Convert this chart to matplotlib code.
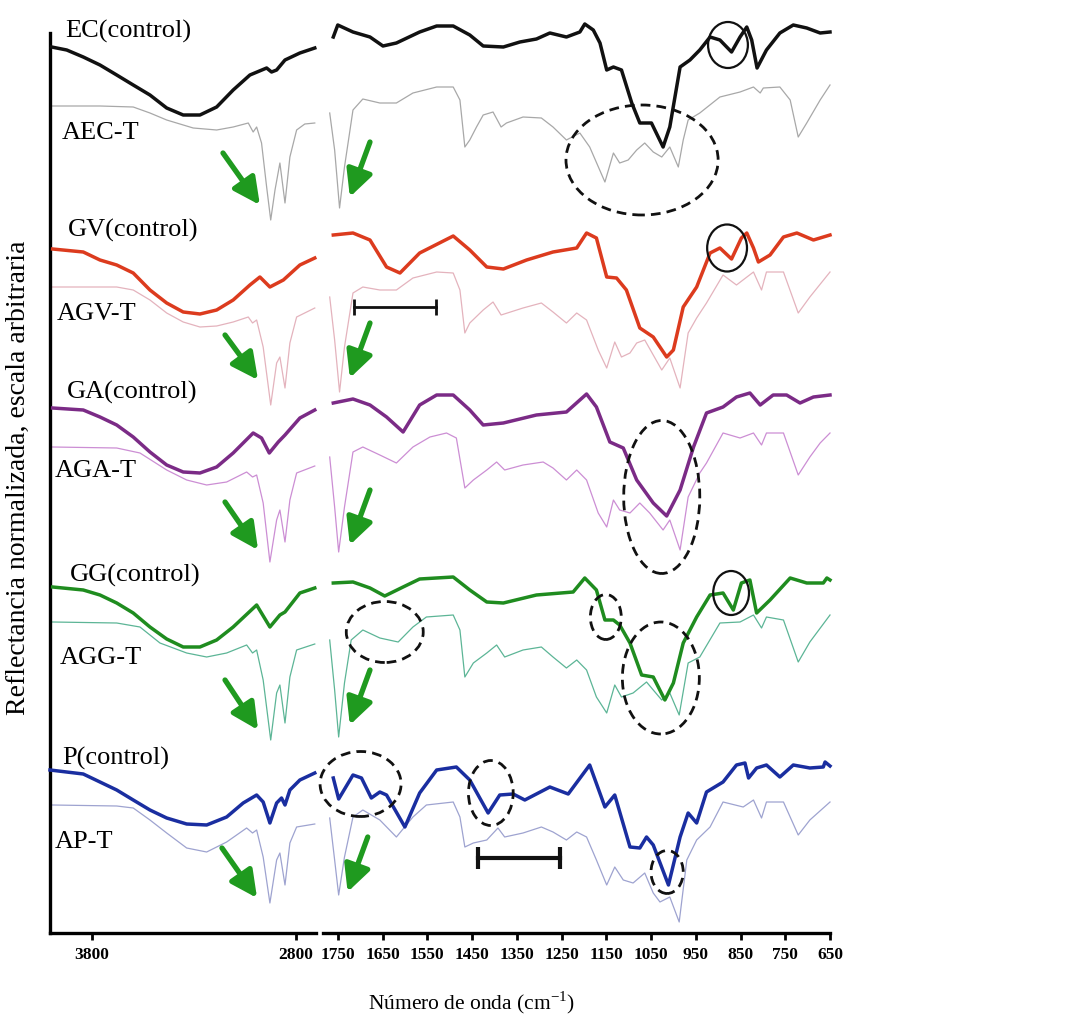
import matplotlib
matplotlib.use('Agg')
import matplotlib.pyplot as plt
from matplotlib.patches import Ellipse

# ---- spectra (wavenumber cm-1, stacked reflectance, arbitrary units) ----
# *_HI: 4000-2700 cm-1 window, *_LO: 1780-650 cm-1 window

EC_HI = [(3998, 886), (3924, 883), (3843, 876), (3761, 868), (3679, 858), (3598, 848),
         (3516, 838), (3434, 825), (3353, 818), (3271, 818), (3189, 826), (3108, 843),
         (3026, 858), (2944, 865), (2920, 861), (2895, 863), (2854, 873), (2781, 880),
         (2708, 885)]
EC_LO = [(1760, 896), (1750, 908), (1716, 901), (1678, 896), (1649, 887), (1619, 890),
         (1567, 901), (1529, 907), (1492, 907), (1455, 898), (1425, 887), (1380, 886),
         (1343, 891), (1306, 894), (1276, 900), (1239, 896), (1209, 901), (1198, 909),
         (1179, 903), (1164, 890), (1149, 863), (1134, 866), (1116, 863), (1093, 830),
         (1075, 810), (1049, 810), (1023, 786), (1008, 806), (985, 866), (963, 873),
         (941, 883), (918, 896), (896, 893), (870, 881), (851, 896), (836, 906),
         (825, 893), (813, 865), (792, 883), (762, 900), (732, 908), (702, 905),
         (672, 900), (650, 901)]

AEC_HI = [(3993, 827), (3761, 827), (3598, 826), (3516, 820), (3434, 813), (3304, 805),
          (3189, 803), (3108, 806), (3034, 810), (3010, 801), (2993, 806), (2969, 790),
          (2944, 746), (2924, 713), (2903, 743), (2879, 770), (2854, 730), (2830, 776),
          (2797, 803), (2757, 809), (2708, 810)]
AEC_LO = [(1768, 820), (1757, 783), (1746, 725), (1735, 766), (1716, 823), (1694, 834),
          (1656, 830), (1619, 830), (1582, 840), (1529, 846), (1492, 846), (1477, 833),
          (1466, 786), (1455, 793), (1440, 806), (1425, 818), (1403, 821), (1385, 806),
          (1373, 810), (1336, 816), (1295, 815), (1269, 806), (1239, 793), (1209, 800),
          (1187, 786), (1153, 751), (1134, 780), (1120, 770), (1101, 773), (1082, 783),
          (1064, 790), (1045, 781), (1026, 776), (1008, 786), (989, 766), (978, 793),
          (967, 813), (941, 820), (896, 836), (851, 841), (821, 846), (806, 840),
          (799, 845), (762, 846), (739, 833), (721, 796), (702, 810), (672, 833),
          (650, 848)]

GV_HI = [(3993, 684), (3843, 681), (3761, 673), (3679, 668), (3598, 660), (3516, 643),
         (3434, 630), (3353, 621), (3271, 619), (3189, 623), (3108, 633), (3026, 648),
         (2977, 656), (2928, 646), (2862, 653), (2781, 668), (2708, 675)]
GV_LO = [(1760, 698), (1716, 700), (1678, 693), (1641, 666), (1611, 660), (1567, 680),
         (1492, 697), (1455, 683), (1417, 666), (1380, 664), (1328, 673), (1269, 681),
         (1216, 685), (1194, 700), (1172, 695), (1149, 656), (1127, 655), (1105, 643),
         (1075, 605), (1045, 596), (1015, 576), (1000, 583), (978, 626), (948, 646),
         (918, 680), (896, 685), (870, 674), (848, 695), (836, 700), (821, 685),
         (810, 671), (784, 678), (754, 696), (724, 700), (687, 693), (650, 698)]

AGV_HI = [(3993, 646), (3679, 646), (3598, 643), (3516, 633), (3434, 620), (3353, 611),
          (3271, 606), (3189, 607), (3108, 611), (3034, 616), (3013, 610), (2993, 613),
          (2961, 586), (2924, 528), (2895, 570), (2879, 576), (2854, 545), (2830, 590),
          (2797, 616), (2708, 625)]
AGV_LO = [(1768, 636), (1757, 593), (1746, 541), (1735, 586), (1716, 640), (1694, 646),
          (1656, 643), (1619, 643), (1582, 655), (1529, 661), (1492, 660), (1477, 643),
          (1466, 600), (1455, 610), (1425, 623), (1403, 631), (1385, 618), (1336, 625),
          (1295, 630), (1269, 621), (1239, 610), (1216, 620), (1194, 613), (1168, 583),
          (1149, 565), (1131, 591), (1116, 576), (1097, 580), (1082, 590), (1064, 593),
          (1045, 578), (1026, 563), (1008, 575), (985, 545), (967, 600), (948, 615),
          (926, 630), (889, 658), (859, 648), (821, 661), (803, 643), (792, 661),
          (754, 661), (721, 620), (695, 636), (650, 661)]

GA_HI = [(3993, 525), (3843, 523), (3761, 516), (3679, 508), (3598, 496), (3516, 481),
         (3434, 468), (3353, 461), (3271, 460), (3189, 466), (3108, 480), (3010, 500),
         (2969, 495), (2931, 480), (2887, 491), (2854, 498), (2781, 515), (2708, 523)]
GA_LO = [(1760, 530), (1716, 534), (1678, 528), (1641, 516), (1604, 501), (1567, 528),
         (1529, 538), (1492, 538), (1455, 523), (1425, 508), (1380, 510), (1306, 518),
         (1239, 521), (1194, 539), (1172, 526), (1142, 491), (1112, 485), (1082, 453),
         (1045, 430), (1015, 417), (985, 443), (955, 486), (926, 520), (889, 526),
         (859, 536), (829, 540), (806, 528), (777, 538), (747, 538), (717, 530),
         (687, 536), (650, 538)]

AGA_HI = [(3993, 486), (3679, 485), (3565, 480), (3434, 463), (3336, 453), (3238, 448),
          (3140, 451), (3042, 461), (3013, 456), (2993, 458), (2961, 430), (2928, 371),
          (2895, 413), (2879, 423), (2854, 391), (2830, 433), (2797, 460), (2708, 467)]
AGA_LO = [(1768, 476), (1757, 426), (1748, 381), (1735, 426), (1716, 481), (1694, 486),
          (1656, 478), (1619, 470), (1582, 486), (1544, 496), (1507, 500), (1485, 495),
          (1466, 445), (1447, 453), (1417, 463), (1395, 471), (1377, 463), (1336, 468),
          (1291, 471), (1269, 465), (1239, 453), (1216, 463), (1194, 453), (1168, 420),
          (1149, 406), (1134, 433), (1120, 423), (1097, 420), (1075, 430), (1053, 420),
          (1023, 403), (1008, 413), (985, 383), (967, 436), (941, 460), (926, 470),
          (889, 500), (851, 495), (821, 500), (803, 488), (792, 500), (754, 500),
          (721, 458), (695, 476), (672, 490), (650, 500)]

GG_HI = [(3993, 346), (3843, 343), (3761, 338), (3679, 330), (3598, 320), (3516, 306),
         (3434, 294), (3353, 286), (3271, 286), (3189, 293), (3108, 306), (2993, 328),
         (2928, 306), (2879, 318), (2854, 321), (2781, 340), (2708, 345)]
GG_LO = [(1760, 350), (1716, 351), (1678, 345), (1645, 337), (1604, 346), (1567, 354),
         (1492, 356), (1455, 343), (1417, 331), (1380, 330), (1306, 338), (1224, 341),
         (1198, 355), (1172, 343), (1153, 313), (1134, 313), (1120, 308), (1097, 290),
         (1071, 258), (1045, 256), (1019, 233), (1000, 250), (978, 290), (948, 316),
         (918, 338), (889, 340), (866, 323), (848, 350), (829, 353), (814, 320),
         (784, 333), (739, 355), (702, 350), (665, 350), (657, 355), (650, 353)]

AGG_HI = [(3993, 311), (3679, 310), (3565, 306), (3467, 290), (3336, 280), (3238, 276),
          (3140, 280), (3042, 288), (3013, 280), (2993, 283), (2961, 253), (2924, 193),
          (2895, 240), (2879, 248), (2854, 210), (2830, 256), (2797, 283), (2708, 289)]
AGG_LO = [(1768, 293), (1757, 243), (1748, 196), (1735, 250), (1720, 293), (1694, 303),
          (1656, 295), (1615, 291), (1582, 306), (1552, 316), (1492, 318), (1477, 303),
          (1466, 256), (1447, 270), (1417, 280), (1395, 288), (1377, 276), (1336, 283),
          (1295, 286), (1269, 276), (1239, 265), (1216, 273), (1194, 263), (1172, 236),
          (1149, 220), (1131, 248), (1116, 236), (1090, 240), (1060, 251), (1045, 243),
          (1026, 233), (1008, 240), (987, 218), (967, 270), (941, 276), (896, 310),
          (851, 311), (821, 318), (803, 305), (792, 316), (754, 313), (721, 271),
          (695, 291), (650, 318)]

P_HI = [(4006, 163), (3843, 159), (3761, 151), (3679, 143), (3598, 133), (3516, 123),
        (3434, 115), (3336, 109), (3238, 108), (3140, 116), (3059, 130), (2993, 138),
        (2961, 131), (2928, 110), (2895, 130), (2871, 135), (2854, 128), (2830, 143),
        (2781, 153), (2708, 160)]
P_LO = [(1760, 155), (1748, 134), (1716, 158), (1697, 155), (1675, 135), (1656, 141),
        (1641, 138), (1600, 106), (1567, 140), (1529, 163), (1485, 166), (1455, 153),
        (1414, 120), (1388, 138), (1358, 139), (1332, 133), (1276, 146), (1235, 139),
        (1187, 168), (1153, 126), (1131, 138), (1097, 86), (1075, 85), (1060, 96),
        (1045, 88), (1011, 48), (985, 96), (967, 120), (948, 110), (926, 141),
        (889, 151), (859, 168), (840, 170), (832, 155), (814, 165), (792, 168),
        (762, 156), (732, 168), (695, 165), (665, 166), (661, 171), (650, 167)]

AP_HI = [(3993, 128), (3679, 127), (3598, 125), (3516, 113), (3434, 100), (3336, 85),
         (3238, 81), (3140, 91), (3042, 105), (3013, 100), (2993, 103), (2961, 76),
         (2928, 30), (2895, 73), (2879, 80), (2854, 48), (2830, 90), (2797, 106),
         (2708, 109)]
AP_LO = [(1768, 115), (1757, 73), (1748, 38), (1735, 76), (1716, 116), (1694, 123),
         (1656, 113), (1619, 96), (1582, 116), (1552, 128), (1492, 131), (1477, 116),
         (1466, 86), (1447, 90), (1417, 93), (1392, 105), (1377, 96), (1336, 100),
         (1295, 106), (1269, 101), (1239, 93), (1216, 101), (1194, 96), (1172, 73),
         (1149, 48), (1131, 66), (1112, 53), (1090, 50), (1064, 60), (1045, 40),
         (1030, 31), (1008, 36), (987, 11), (970, 73), (948, 93), (918, 106),
         (889, 131), (844, 126), (821, 133), (803, 115), (792, 131), (754, 131),
         (721, 98), (695, 113), (650, 131)]

# sample name, label anchor (wn, y), colour, thick control line or thin treated line
SAMPLES = [
    ("EC(control)", (3932, 902), "#111111", True, EC_HI, EC_LO),
    ("AEC-T", (3947, 800), "#a8a8a8", False, AEC_HI, AEC_LO),
    ("GV(control)", (3918, 703), "#dc3b1e", True, GV_HI, GV_LO),
    ("AGV-T", (3972, 619), "#e4b3bd", False, AGV_HI, AGV_LO),
    ("GA(control)", (3923, 541), "#7b2b86", True, GA_HI, GA_LO),
    ("AGA-T", (3981, 462), "#cc8ed4", False, AGA_HI, AGA_LO),
    ("GG(control)", (3908, 358), "#1f8c1f", True, GG_HI, GG_LO),
    ("AGG-T", (3957, 275), "#5cb596", False, AGG_HI, AGG_LO),
    ("P(control)", (3947, 175), "#1a2ea0", True, P_HI, P_LO),
    ("AP-T", (3981, 91), "#9ea3d0", False, AP_HI, AP_LO),
]

# green arrows (start -> end) in each window
ARROWS_HI = [((3158, 780), (2977, 728)), ((3148, 598), (2986, 553)),
             ((3148, 431), (2986, 383)), ((3148, 253), (2986, 203)),
             ((3163, 85), (2991, 35))]
ARROWS_LO = [((1678, 791), (1723, 736)), ((1678, 610), (1723, 555)),
             ((1678, 443), (1723, 388)), ((1678, 263), (1723, 208)),
             ((1683, 96), (1728, 41))]

# highlighted bands: centre (wn, y), width (cm-1), height, dashed?
MARKS = [((878, 888), 89, 46, False), ((1070, 773), 340, 110, True),
         ((880, 685), 89, 47, False), ((1026, 436), 170, 153, True),
         ((871, 340), 80, 44, False), ((1151, 316), 69, 45, True),
         ((1645, 301), 172, 61, True), ((1028, 255), 172, 112, True),
         ((1699, 149), 181, 65, True), ((1408, 140), 100, 65, True),
         ((1014, 61), 72, 43, True)]

# range bars: (wn_start, wn_end, y, line width, cap size)
RANGES = [(1714, 1531, 626, 2.0, 12), (1437, 1254, 75, 3.0, 16)]

plt.rcParams['font.family'] = ['Liberation Serif', 'DejaVu Serif']
plt.rcParams['mathtext.fontset'] = 'custom'
plt.rcParams['mathtext.rm'] = 'Liberation Serif'

W, H = 1069, 1019
fig = plt.figure(figsize=(W / 100, H / 100), dpi=100)
ax_hi = fig.add_axes([50 / W, 86 / H, 266 / W, 900 / H])
ax_lo = fig.add_axes([323 / W, 86 / H, 507 / W, 900 / H])

for name, (lx, ly), color, control, hi, lo in SAMPLES:
    lw = 2.5 if control else 0.9
    for ax, trace in ((ax_hi, hi), (ax_lo, lo)):
        xs, ys = zip(*trace)
        ax.plot(xs, ys, color=color, lw=lw, solid_joinstyle='round',
                clip_on=False, zorder=3 if control else 2)
    ax_hi.text(lx, ly, name, fontsize=19, ha='left', va='center', clip_on=False, zorder=5)

arrow_kw = dict(arrowstyle='-|>,head_length=0.8,head_width=0.4', color='#1f9a1f',
                lw=3.8, mutation_scale=20, shrinkA=0, shrinkB=0)
for ax, arrows in ((ax_hi, ARROWS_HI), (ax_lo, ARROWS_LO)):
    for start, end in arrows:
        ax.annotate('', xy=end, xytext=start, arrowprops=arrow_kw, zorder=6)

for (cx, cy), w, h, dashed in MARKS:
    ax_lo.add_patch(Ellipse((cx, cy), w, h, fill=False, ec='#111111',
                            lw=2.0 if dashed else 1.6,
                            ls=(0, (3.5, 2.2)) if dashed else '-',
                            clip_on=False, zorder=6))

for x0, x1, y, lw, cap in RANGES:
    ax_lo.plot([x0, x1], [y, y], color='#111111', lw=lw, marker='|',
               markersize=cap, mew=lw, zorder=6)

ax_hi.set_xlim(4006, 2702)
ax_lo.set_xlim(1783, 650)
for ax in (ax_hi, ax_lo):
    ax.set_ylim(0, 900)
    ax.set_yticks([])
    ax.spines['top'].set_visible(False)
    ax.spines['right'].set_visible(False)
    ax.spines['bottom'].set_linewidth(2.4)
    ax.spines['left'].set_linewidth(2.4)
    ax.tick_params(axis='x', direction='out', length=5, width=2, pad=5, labelsize=12.5)
    ax.patch.set_alpha(0)
ax_lo.spines['left'].set_visible(False)

ax_hi.set_xticks([3800, 2800])
ax_lo.set_xticks(list(range(1750, 649, -100)))
for ax in (ax_hi, ax_lo):
    for lab in ax.get_xticklabels():
        lab.set_fontweight('bold')

fig.text(18 / W, 1 - 478 / H, 'Reflectancia normalizada, escala arbitraria',
         rotation=90, ha='center', va='center', fontsize=20)
fig.text(472 / W, 1 - 1003 / H, 'Número de onda (cm$^{\\mathregular{-1}}$)',
         ha='center', va='center', fontsize=15.5)

fig.savefig('out.png', dpi=100, facecolor='white')
